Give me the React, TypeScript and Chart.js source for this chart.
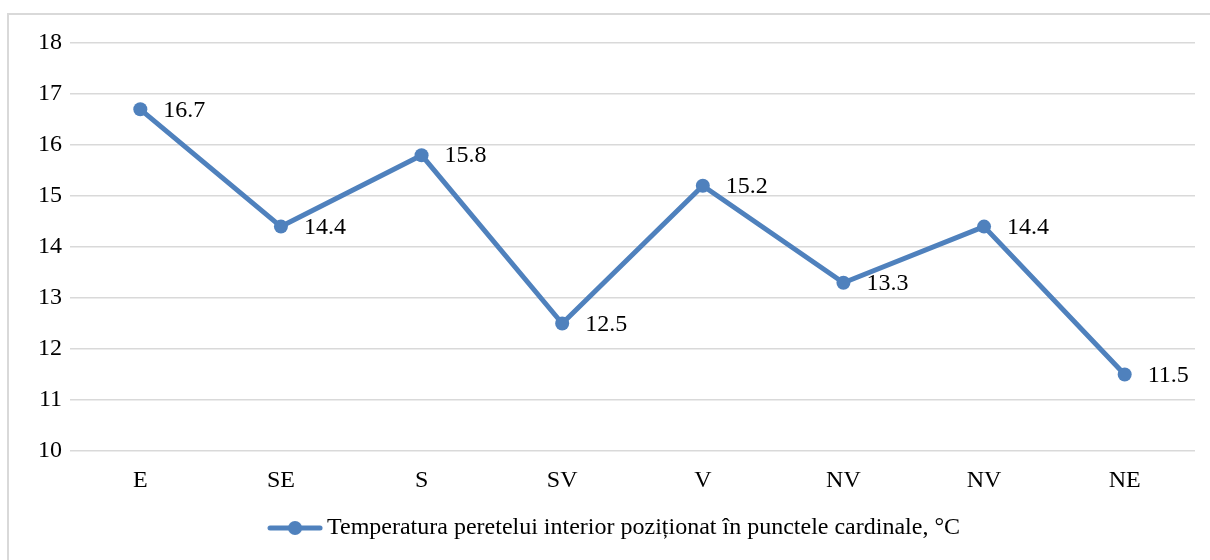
import React, { useEffect, useRef } from "react";
import { Chart, registerables } from "chart.js";

Chart.register(...registerables);

const categories = ["E", "SE", "S", "SV", "V", "NV", "NV", "NE"];
const values = [16.7, 14.4, 15.8, 12.5, 15.2, 13.3, 14.4, 11.5];
const seriesLabel = "Temperatura peretelui interior poziționat în punctele cardinale, °C";
const yMin = 10;
const yMax = 18;

const BLUE = "#4f81bd";
const FONT = "'Liberation Serif', 'Times New Roman', serif";
const FONT_SIZE = 24;

function makeLegendMarker(): HTMLCanvasElement {
  const c = document.createElement("canvas");
  c.width = 56;
  c.height = 16;
  const ctx = c.getContext("2d")!;
  ctx.strokeStyle = BLUE;
  ctx.lineWidth = 5;
  ctx.lineCap = "round";
  ctx.beginPath();
  ctx.moveTo(3, 8);
  ctx.lineTo(53, 8);
  ctx.stroke();
  ctx.fillStyle = BLUE;
  ctx.beginPath();
  ctx.arc(28, 8, 7, 0, Math.PI * 2);
  ctx.fill();
  return c;
}

const dataLabelPlugin = {
  id: "dataLabelsRight",
  afterDatasetsDraw(chart: any) {
    const ctx = chart.ctx;
    ctx.save();
    ctx.font = `${FONT_SIZE}px ${FONT}`;
    ctx.fillStyle = "#000";
    ctx.textAlign = "left";
    ctx.textBaseline = "middle";
    chart.data.datasets.forEach((ds: any, di: number) => {
      const meta = chart.getDatasetMeta(di);
      meta.data.forEach((pt: any, i: number) => {
        ctx.fillText(String(ds.data[i].toFixed(1)), pt.x + 23, pt.y + 1);
      });
    });
    ctx.restore();
  },
};

export default function App() {
  const ref = useRef<HTMLCanvasElement>(null);
  useEffect(() => {
    if (!ref.current) return;
    const marker = makeLegendMarker();
    const chart = new Chart(ref.current, {
      type: "line",
      data: {
        labels: categories,
        datasets: [
          {
            label: seriesLabel,
            data: values,
            borderColor: BLUE,
            backgroundColor: BLUE,
            borderWidth: 5,
            pointRadius: 7,
            pointHoverRadius: 7,
            pointBackgroundColor: BLUE,
            pointBorderColor: BLUE,
            pointBorderWidth: 0,
            tension: 0,
            borderCapStyle: "round",
            borderJoinStyle: "round",
          },
        ],
      },
      options: {
        animation: false,
        responsive: false,
        maintainAspectRatio: false,
        layout: { padding: { left: 40, right: 15, top: 43, bottom: 10 } },
        plugins: {
          tooltip: { enabled: false },
          legend: {
            display: true,
            position: "bottom",
            labels: {
              usePointStyle: true,
              pointStyleWidth: 40,
              color: "#000",
              font: { family: FONT, size: FONT_SIZE },
              generateLabels: () => [
                {
                  text: seriesLabel,
                  pointStyle: marker,
                  fillStyle: BLUE,
                  strokeStyle: BLUE,
                  lineWidth: 0,
                  hidden: false,
                  datasetIndex: 0,
                  fontColor: "#000",
                },
              ],
            },
          },
        },
        scales: {
          x: {
            offset: true,
            grid: { display: false, drawTicks: false },
            border: { display: false },
            ticks: {
              color: "#000",
              font: { family: FONT, size: FONT_SIZE },
              padding: 15,
              maxRotation: 0,
              autoSkip: false,
            },
            afterFit: (s: any) => {
              s.height = 55;
            },
          },
          y: {
            min: yMin,
            max: yMax,
            grid: { color: "#d9d9d9", lineWidth: 1.5, drawTicks: false },
            border: { display: false },
            ticks: {
              stepSize: 1,
              color: "#000",
              font: { family: FONT, size: FONT_SIZE },
              padding: 8,
            },
            afterFit: (s: any) => {
              s.width = 30;
            },
          },
        },
      },
      plugins: [dataLabelPlugin],
    });
    return () => chart.destroy();
  }, []);

  return (
    <div>
      <div
        style={{
          position: "absolute",
          left: 7,
          top: 13,
          width: 1230,
          height: 580,
          border: "2px solid #d9d9d9",
          boxSizing: "border-box",
        }}
      />
      <div style={{ position: "absolute", left: 0, top: 0, width: 1210, height: 560 }}>
        <canvas ref={ref} width={1210} height={560} style={{ display: "block" }} />
      </div>
    </div>
  );
}
